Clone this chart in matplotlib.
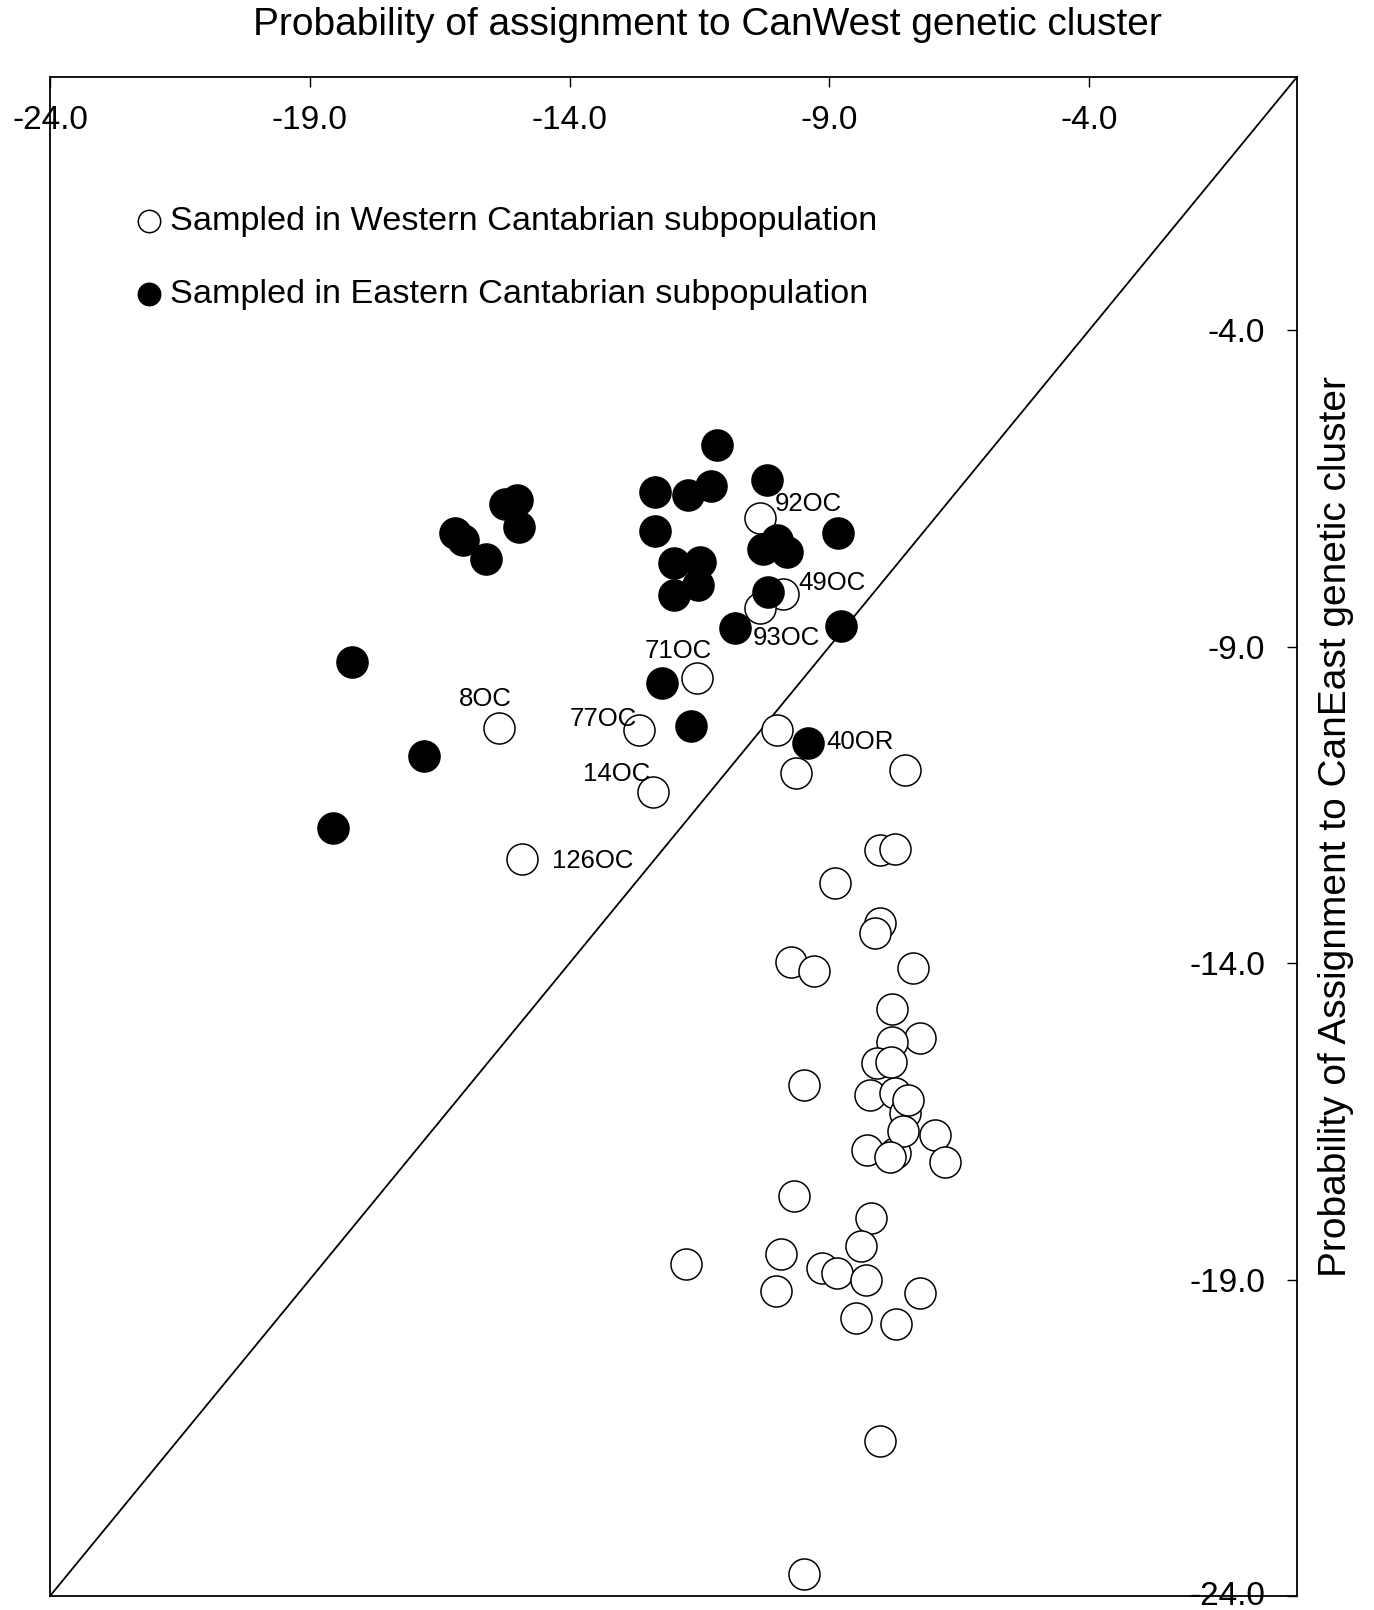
import matplotlib
matplotlib.use("Agg")
import matplotlib.pyplot as plt
from matplotlib.transforms import ScaledTranslation

plt.rcParams['font.family'] = ['Liberation Sans', 'DejaVu Sans']
plt.rcParams['axes.unicode_minus'] = False

# ---------------- data ----------------
x_ticks = [-24, -19, -14, -9, -4]
x_tick_labels = ['-24.0', '-19.0', '-14.0', '-9.0', '-4.0']
y_ticks = [-4, -9, -14, -19, -24]
y_tick_labels = ['-4.0', '-9.0', '-14.0', '-19.0', '-24.0']
axis_limits = [-24, 0]

title_text = 'Probability of assignment to CanWest genetic cluster'
ylabel_text = 'Probability of Assignment to CanEast genetic cluster'
west_label = 'Sampled in Western Cantabrian subpopulation'
east_label = 'Sampled in Eastern Cantabrian subpopulation'

# Western (open circles): CanWest log-prob (x), CanEast log-prob (y)
west_x = [-10.34, -9.90, -10.34, -11.55, -15.36, -12.66, -12.40, -14.92,
          -10.00, -9.64, -7.55, -8.02, -7.73, -8.89, -8.02, -8.12,
          -9.73, -9.29, -7.39, -7.80, -7.26, -7.80, -8.09, -7.81,
          -8.22, -7.74, -7.55, -7.48, -7.74, -7.58, -6.97, -8.28,
          -7.83, -6.78, -9.49, -9.69, -8.20, -8.39, -9.93, -9.15,
          -8.86, -8.30, -10.03, -7.26, -8.49, -7.71, -11.76, -8.02, -9.49]
west_y = [-6.97, -8.17, -8.39, -9.49, -10.29, -10.32, -11.29, -12.36,
          -10.31, -10.99, -10.95, -12.22, -12.20, -12.74, -13.37, -13.52,
          -13.99, -14.13, -14.07, -14.73, -15.19, -15.24, -15.58, -15.56,
          -16.08, -16.06, -16.37, -16.16, -17.00, -16.66, -16.72, -16.95,
          -17.06, -17.14, -15.93, -17.68, -18.03, -18.47, -18.60, -18.81,
          -18.90, -19.00, -19.18, -19.21, -19.61, -19.70, -18.76, -21.55, -23.66]

# Eastern (filled circles)
east_x = [-11.17, -12.36, -11.72, -11.27, -10.21, -12.36, -8.83, -10.27,
          -10.01, -9.82, -12.00, -11.49, -12.00, -11.52, -10.18, -10.82,
          -8.78, -12.23, -11.67, -9.42, -15.24, -15.02, -14.97, -16.21,
          -16.05, -15.61, -18.18, -16.80, -18.56]
east_y = [-5.81, -6.55, -6.60, -6.47, -6.36, -7.18, -7.20, -7.45,
          -7.32, -7.50, -7.68, -7.66, -8.18, -8.03, -8.13, -8.71,
          -8.67, -9.58, -10.25, -10.52, -6.74, -6.68, -7.11, -7.21,
          -7.32, -7.62, -9.25, -10.73, -11.86]

# labelled individuals: (name, group, index into that group's arrays)
label_names = ['92OC', '49OC', '93OC', '71OC', '8OC', '77OC', '14OC', '126OC', '40OR']
label_group = ['west', 'west', 'west', 'west', 'west', 'west', 'west', 'west', 'east']
label_index = [0, 1, 2, 3, 4, 5, 6, 7, 19]

# label placement (offset in points, alignment) -- layout only
label_offsets = [(10.8, 10.3), (11.0, 8.1), (-5.0, -21.4), (-13.5, 19.4),
                 (-9.6, 20.9), (-1.9, 7.9), (-1.9, 12.7), (21.6, -0.9), (13.2, 0.7)]
label_ha = ['left', 'left', 'left', 'center', 'center', 'right', 'right', 'left', 'left']

# ---------------- figure ----------------
fig = plt.figure(figsize=(13.74, 16.10), dpi=100)
ax = fig.add_axes([50 / 1374, 14 / 1610, 1247 / 1374, 1519 / 1610])
ax.set_xlim(axis_limits)
ax.set_ylim(axis_limits)

# diagonal reference line
ax.plot(axis_limits, axis_limits, color='black', lw=1.3, zorder=1)

s_marker = 500
ax.scatter(west_x, west_y, s=s_marker, facecolor='white', edgecolor='black',
           linewidth=1.1, zorder=2, label=west_label)
ax.scatter(east_x, east_y, s=s_marker, facecolor='black', edgecolor='black',
           linewidth=1.1, zorder=3, label=east_label)

for name, grp, idx, off, ha in zip(label_names, label_group, label_index,
                                   label_offsets, label_ha):
    px = west_x[idx] if grp == 'west' else east_x[idx]
    py = west_y[idx] if grp == 'west' else east_y[idx]
    ax.annotate(name, xy=(px, py), xytext=off, textcoords='offset points',
                ha=ha, va='center', fontsize=18.5, zorder=4)

# spines
for sp in ax.spines.values():
    sp.set_linewidth(1.3)

# ticks: top and right, inward, labels inside the frame
ax.xaxis.tick_top()
ax.yaxis.tick_right()
ax.set_xticks(x_ticks)
ax.set_xticklabels(x_tick_labels)
ax.set_yticks(y_ticks)
ax.set_yticklabels(y_tick_labels)
ax.tick_params(axis='x', direction='in', length=7, width=1.0,
               labelsize=24, pad=-42.5)
ax.tick_params(axis='y', direction='in', length=7, width=1.0,
               labelsize=24, pad=-23)
ylbls = ax.get_yticklabels()
for lbl in ylbls:
    lbl.set_horizontalalignment('right')
# the bottom label sits on the lower spine; nudge it slightly up
ylbls[-1].set_transform(ylbls[-1].get_transform()
                        + ScaledTranslation(0, 3 / 100, fig.dpi_scale_trans))

# axis titles
ax.xaxis.set_label_position('top')
ax.set_xlabel(title_text, fontsize=28)
ax.xaxis.set_label_coords(0.527, 1.0342)
ax.xaxis.label.set_verticalalignment('center')

ax.yaxis.set_label_position('right')
ax.set_ylabel(ylabel_text, fontsize=28, rotation=90)
ax.yaxis.set_label_coords(1.0315, 0.5063)
ax.yaxis.label.set_verticalalignment('center')
ax.yaxis.label.set_horizontalalignment('center')

# legend
leg = ax.legend(loc='upper left', bbox_to_anchor=(0.0706, 0.915),
                frameon=False, fontsize=24.7, markerscale=0.72,
                handlelength=0.62, handletextpad=0.30, labelspacing=1.21,
                borderpad=0, borderaxespad=0, scatterpoints=1)

fig.savefig('out.png', dpi=100)
